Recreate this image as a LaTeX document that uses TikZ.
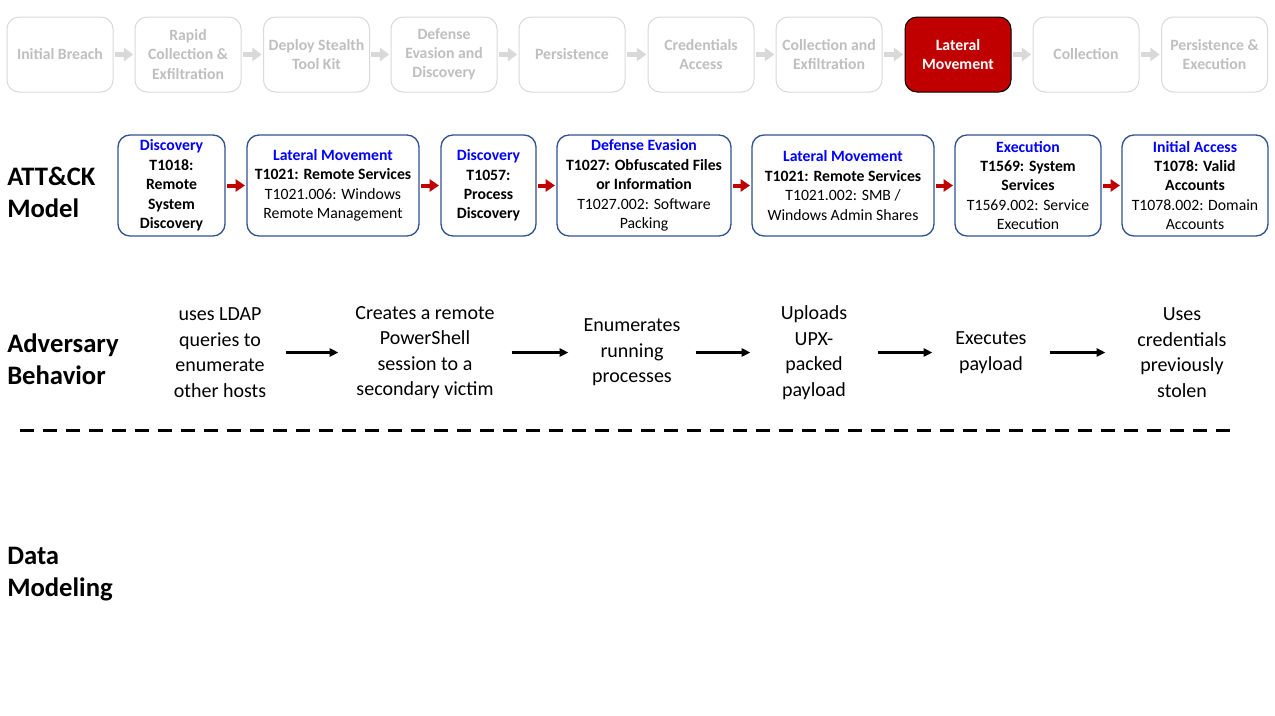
\documentclass[tikz,border=0pt]{standalone}
\usepackage{fontspec}
\usepackage{xcolor}
\setmainfont{Carlito}
\usetikzlibrary{arrows.meta}

\newcommand{\tacticname}[1]{\textcolor{tacticblue}{\textbf{#1}}}

\begin{document}
\begin{tikzpicture}[x=0.75pt, y=-0.75pt,
  stagebox/.style={draw=stagegray, line width=0.75pt, rounded corners=9pt, minimum width=79.5pt, minimum height=56.25pt, inner sep=1pt, align=center, text=stagetext, font=\fontsize{11.8}{14.3}\selectfont\bfseries},
  stagenow/.style={stagebox, draw=black, fill=stagered, text=white},
  attbox/.style={draw=boxblue, line width=1pt, rounded corners=9pt, minimum height=75.75pt, inner sep=1pt, align=center, font=\fontsize{11.8}{14.6}\selectfont},
  rowlabel/.style={anchor=west, align=left, inner sep=0pt, font=\fontsize{20}{24}\selectfont\bfseries},
  behavior/.style={align=center, inner sep=0pt, font=\fontsize{15}{19.1}\selectfont},
  grayarrow/.style={draw=stagegray, line width=3.75pt, -{Triangle[length=7pt,width=10pt]}, shorten <=1pt, shorten >=1pt},
  redarrow/.style={draw=stagered, line width=3pt, -{Triangle[length=7pt,width=9pt]}, shorten <=1pt, shorten >=1pt},
  blackarrow/.style={draw=black, line width=1.9pt, -{Triangle[length=6.5pt,width=6pt]}, shorten <=1pt, shorten >=1pt}
]

\definecolor{stagegray}{RGB}{217, 217, 217}
\definecolor{stagetext}{RGB}{191, 191, 191}
\definecolor{stagered}{RGB}{192, 0, 0}
\definecolor{boxblue}{RGB}{47, 82, 143}
\definecolor{tacticblue}{RGB}{0, 0, 255}

\useasboundingbox (0,0) rectangle (1275,715);

% Campaign stages
\node[stagebox] (s1) at (60,54.5) {Initial Breach};
\node[stagebox] (s2) at (188,54.5) {Rapid\\Collection \&\\Exfiltration};
\node[stagebox] (s3) at (316.5,54.5) {Deploy Stealth\\Tool Kit};
\node[stagebox] (s4) at (444,54.5) {Defense\\Evasion and\\Discovery};
\node[stagebox] (s5) at (572,54.5) {Persistence};
\node[stagebox] (s6) at (701,54.5) {Credentials\\Access};
\node[stagebox] (s7) at (829,54.5) {Collection and\\Exfiltration};
\node[stagenow] (s8) at (958,54.5) {Lateral\\Movement};
\node[stagebox] (s9) at (1086,54.5) {Collection};
\node[stagebox] (s10) at (1214.5,54.5) {Persistence \&\\Execution};

\draw[grayarrow] (s1) -- (s2);
\draw[grayarrow] (s2) -- (s3);
\draw[grayarrow] (s3) -- (s4);
\draw[grayarrow] (s4) -- (s5);
\draw[grayarrow] (s5) -- (s6);
\draw[grayarrow] (s6) -- (s7);
\draw[grayarrow] (s7) -- (s8);
\draw[grayarrow] (s8) -- (s9);
\draw[grayarrow] (s9) -- (s10);

% Row labels
\node[rowlabel] (lmodel) at (7,192) {ATT\&CK\\Model};
\node[rowlabel] (lbehav) at (7,359) {Adversary\\Behavior};
\node[rowlabel] (ldata) at (7,574) {Data\\Modeling};

% ATT&CK techniques
\node[attbox, minimum width=80.25pt] (t1) at (171.5,185.5) {\tacticname{Discovery}\\\textbf{T1018:}\\\textbf{Remote}\\\textbf{System}\\\textbf{Discovery}};
\node[attbox, minimum width=129pt] (t2) at (333,185.5) {\tacticname{Lateral Movement}\\\textbf{T1021: Remote Services}\\T1021.006: Windows\\Remote Management};
\node[attbox, minimum width=71.25pt] (t3) at (488.5,185.5) {\tacticname{Discovery}\\\textbf{T1057:}\\\textbf{Process}\\\textbf{Discovery}};
\node[attbox, minimum width=130.5pt] (t4) at (644,185.5) {\tacticname{Defense Evasion}\\\textbf{T1027: Obfuscated Files}\\\textbf{or Information}\\T1027.002: Software\\Packing};
\node[attbox, minimum width=136.5pt] (t5) at (843,185.5) {\tacticname{Lateral Movement}\\\textbf{T1021: Remote Services}\\T1021.002: SMB /\\Windows Admin Shares};
\node[attbox, minimum width=109.5pt] (t6) at (1028,185.5) {\tacticname{Execution}\\\textbf{T1569: System}\\\textbf{Services}\\T1569.002: Service\\Execution};
\node[attbox, minimum width=109.5pt] (t7) at (1195,185.5) {\tacticname{Initial Access}\\\textbf{T1078: Valid}\\\textbf{Accounts}\\T1078.002: Domain\\Accounts};

\draw[redarrow] (t1) -- (t2);
\draw[redarrow] (t2) -- (t3);
\draw[redarrow] (t3) -- (t4);
\draw[redarrow] (t4) -- (t5);
\draw[redarrow] (t5) -- (t6);
\draw[redarrow] (t6) -- (t7);

% Adversary behavior
\node[behavior, minimum width=96pt] (b1) at (220,352.5) {uses LDAP\\queries to\\enumerate\\other hosts};
\node[behavior, minimum width=127.5pt] (b2) at (425,352.5) {Creates a remote\\PowerShell\\session to a\\secondary victim};
\node[behavior, minimum width=93pt] (b3) at (632,352.5) {Enumerates\\running\\processes};
\node[behavior, minimum width=93pt] (b4) at (814,352.5) {Uploads\\UPX-\\packed\\payload};
\node[behavior, minimum width=85.5pt] (b5) at (991,352.5) {Executes\\payload};
\node[behavior, minimum width=112.5pt] (b6) at (1182,352.5) {Uses\\credentials\\previously\\stolen};

\draw[blackarrow] (b1.east) -- (b2.west);
\draw[blackarrow] (b2.east) -- (b3.west);
\draw[blackarrow] (b3.east) -- (b4.west);
\draw[blackarrow] (b4.east) -- (b5.west);
\draw[blackarrow] (b5.east) -- (b6.west);

% Separator
\draw[line width=2.25pt, dash pattern=on 10.5pt off 6.75pt] (20,430) -- (1230,430);

\end{tikzpicture}
\end{document}
